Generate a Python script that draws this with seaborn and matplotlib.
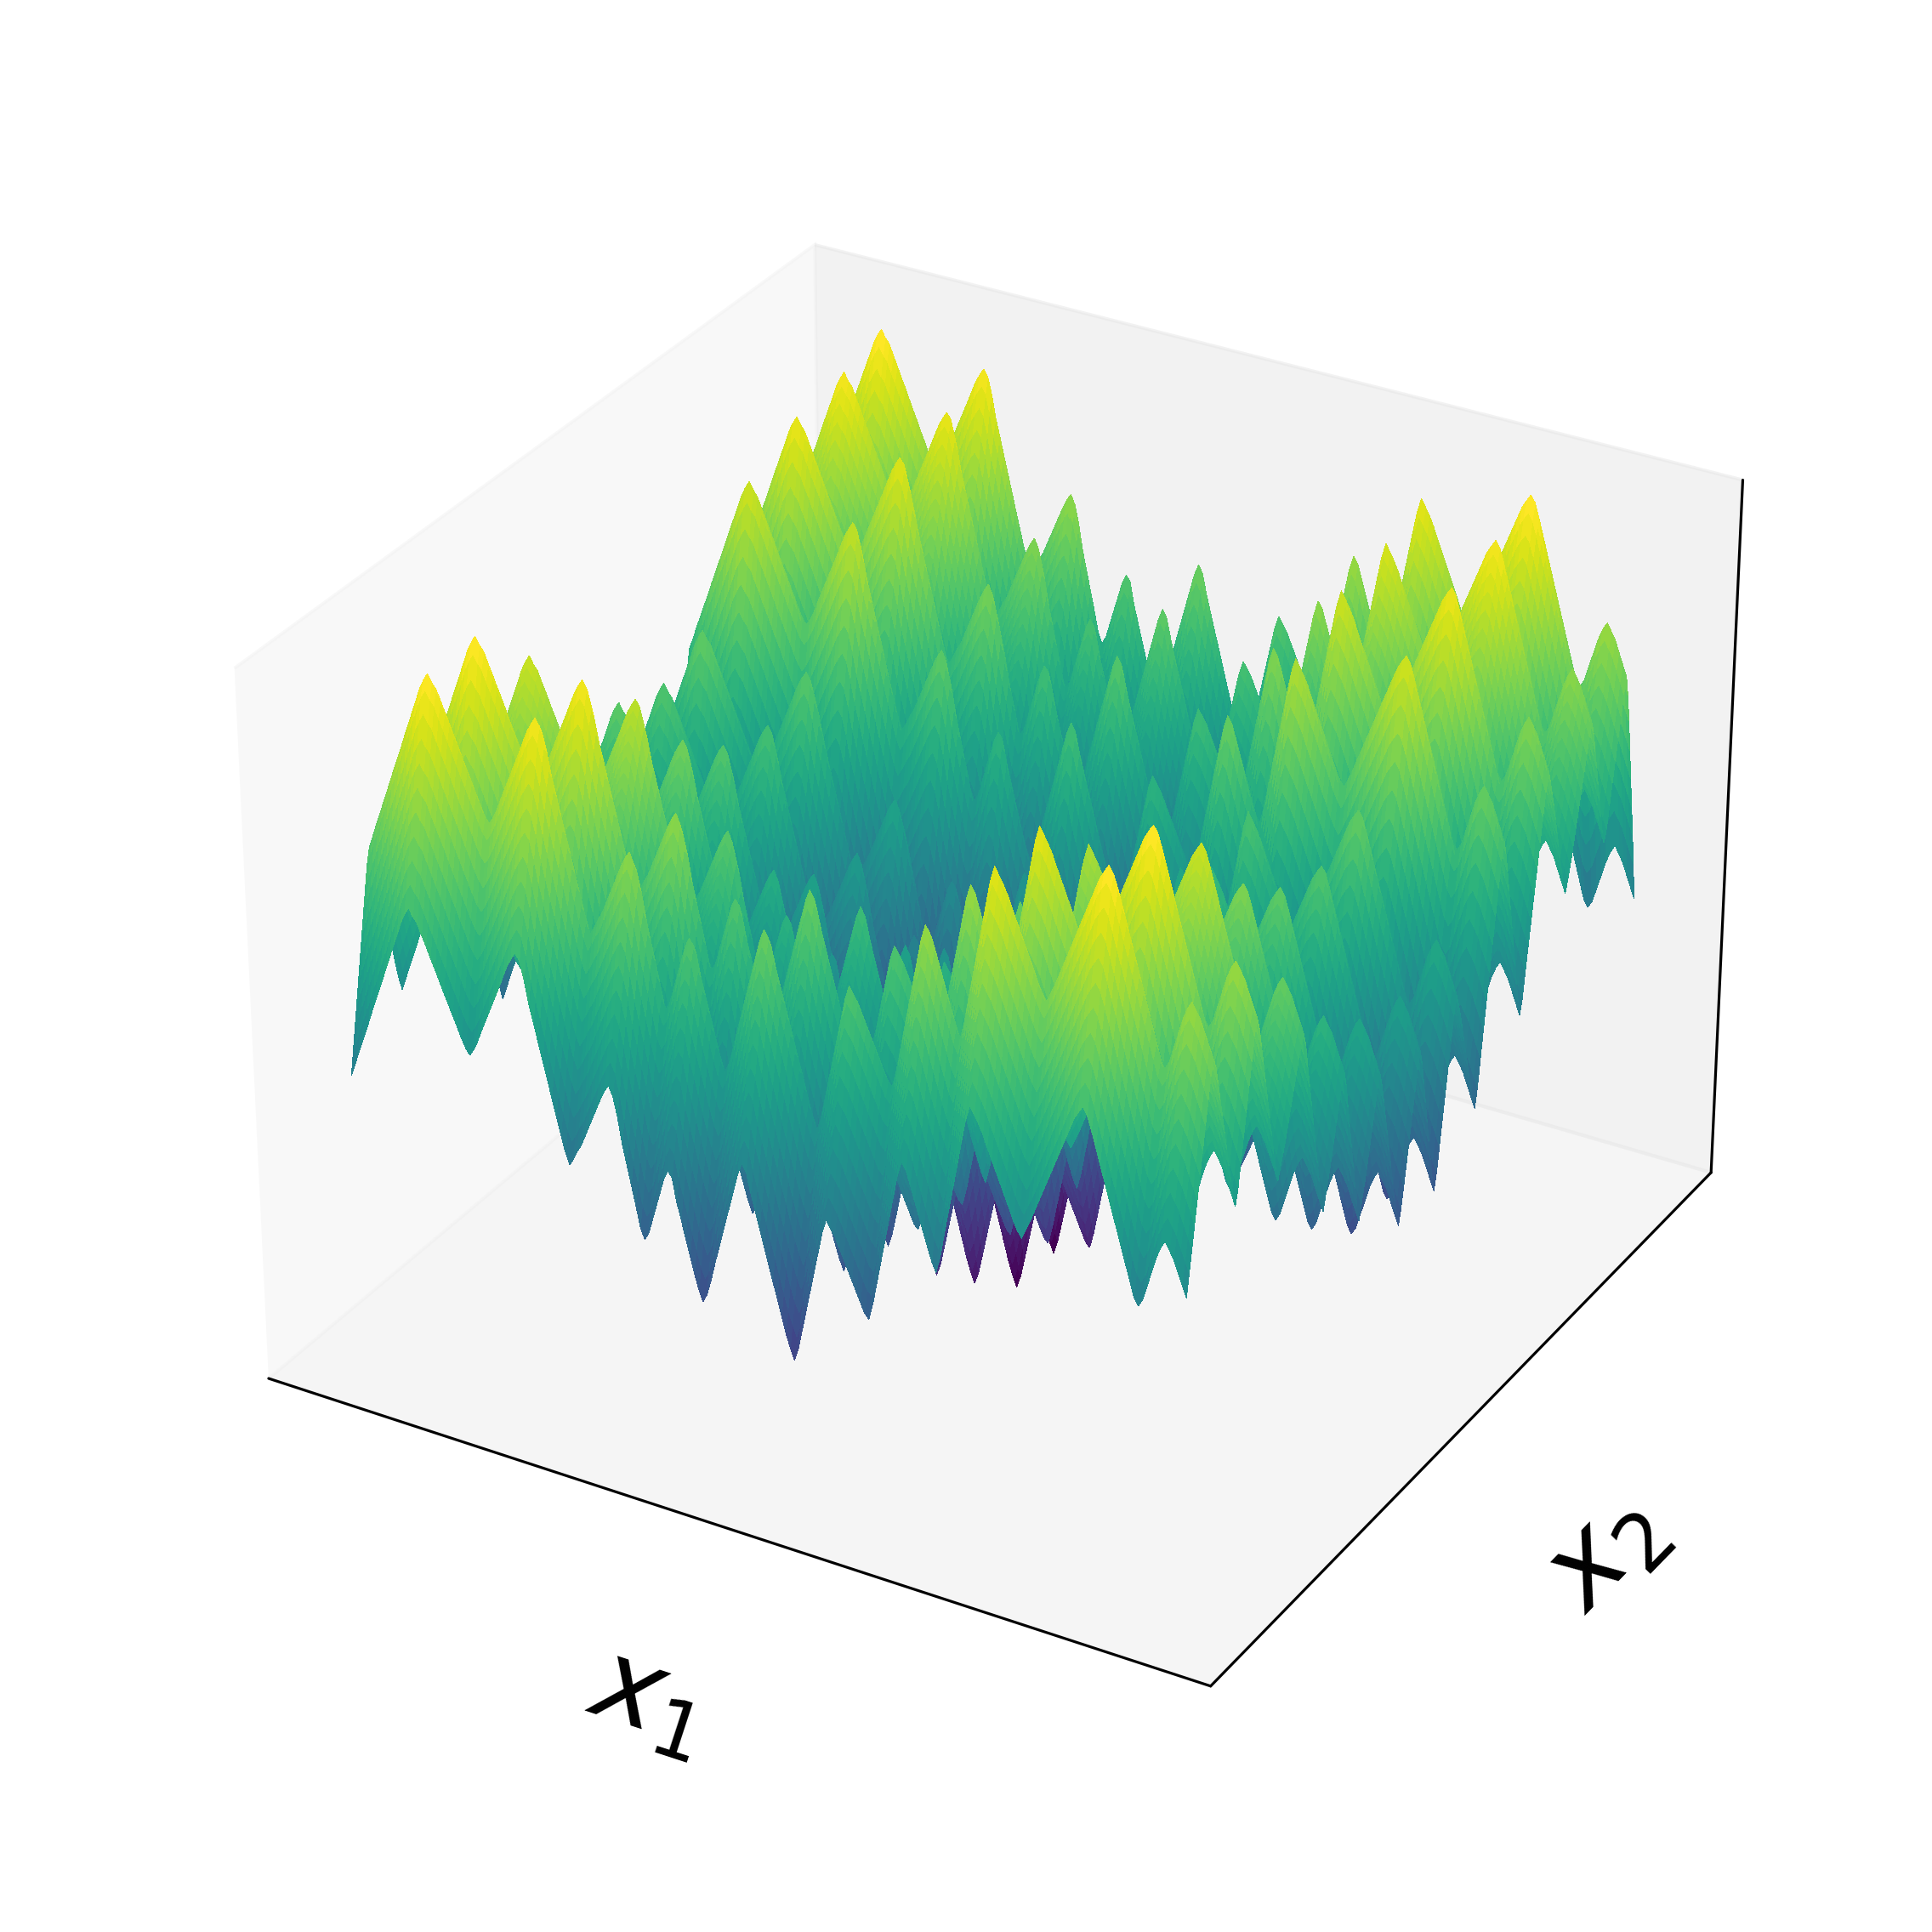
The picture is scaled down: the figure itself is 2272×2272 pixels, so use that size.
import matplotlib
matplotlib.use("Agg")
import matplotlib.pyplot as plt
import numpy as np
import seaborn as sns

# surface heights, step 0.05 from -5 to 5
height_x1 = [21, 22.6, 24.3, 25.9, 27.5, 29.1, 30.8, 32.4, 34, 35.6, 37.3, 38.9, 40.5, 42.1, 43.8, 45, 46,
             45, 44.3, 42.9, 41.6, 40.2, 38.9, 37.5, 36.1, 34.8, 33.4, 32.1, 30.7, 29.5, 28.7,
             29.6, 30.8, 32.3, 33.7, 35.1, 36.5, 37.9, 39.3, 40.8, 42.2, 43.3, 44.2,
             43.3, 41, 38, 35.7, 33.3, 31, 28.7, 26.3, 24, 21.7, 19.5, 18,
             19, 20.2, 21.2, 22.6, 24, 25.4, 26.8, 28.2, 29.4, 30.3,
             29, 26.5, 23.1, 20.5, 17.9, 15.3, 12.5, 11,
             12, 14, 16, 18, 20, 21.3,
             20.5, 17.5, 15.3, 13, 10.8, 8.5, 6.5, 5,
             6.2, 8.2, 10.6, 12.8, 15, 17.2, 19.4, 21.6, 23.8, 25.3,
             24.3, 21.7, 19.5, 17.3, 15.2, 13, 10.8, 8.7, 6.5, 4.3, 2.5, 1,
             2.8, 5.5, 8.3, 11, 13.8, 16.5, 19.3, 21.2,
             20.3, 19.4, 18.1, 16.8, 15.5, 14.2, 12.9, 11.6, 10.3, 9.7,
             12, 15, 18, 21, 24, 27, 30, 32,
             31.1, 29.3, 27.4, 25.5, 23.6, 21.8, 20, 18.7,
             21, 24.3, 27.4, 30.5, 33.6, 36.8, 39.9, 42,
             41, 40, 38.8, 37.3, 35.9, 34.5, 33.1, 31.7, 30.3, 28.8, 27.6, 26.7,
             28, 29.3, 30.8, 32.3, 33.8, 35.3, 36.8, 38.3, 39.8, 41.3, 42.8, 44.3, 45.3, 46.2,
             45.3, 43.5, 41.5, 39.5, 37.5, 35.5, 33.5, 31.5, 29.5, 27.5, 25.5, 23.5,
             22.5, 23.5, 25.5, 27.5, 29.5, 31, 32, 31, 30, 28.5, 27, 25.5]
height_x2 = [21, 23.9, 26.8, 29.7, 32.6, 35.5, 38.4, 41.3, 44.2, 47, 48.8,
             47.6, 45.2, 42.8, 40.4, 38, 35.6, 33.2, 30.8, 28.6, 27,
             29, 32, 35, 38, 41, 44, 47, 49,
             47.4, 44.8, 42.2, 39.6, 37, 34.4, 31.8, 29.2, 26.8, 25,
             26.6, 28, 29.6, 31.4, 33.2, 35, 36.8, 38.6, 40.2, 41.3,
             39.5, 36.4, 33.6, 30.8, 28, 25.2, 22.4, 19.6, 17, 15,
             17, 18.8, 20.8, 23, 25.3, 27.5, 29.6, 31.2,
             29.2, 26, 23, 20, 17, 14, 11.3, 9,
             11, 13, 15.1, 17.5, 19.9, 22.3, 24.6, 26.3,
             24.5, 22, 19.5, 17, 14.5, 12, 9.5, 7, 4.8, 3,
             5, 7.8, 10.6, 13.5, 16.4, 19.3, 22, 24.2,
             22.2, 19.3, 16.4, 13.5, 10.6, 7.8, 5, 3,
             5.2, 8.5, 11.8, 15, 18.3, 21.5, 24.7, 27.2,
             25.6, 24, 22, 20, 18, 16, 14, 12, 10.2, 9,
             11.5, 15.3, 18.9, 22.5, 26, 29.5, 33, 36.5, 39.8, 42.2,
             40.3, 37.6, 34.8, 32, 29.2, 26.4, 23.6, 20.8, 18.2, 16,
             18, 21.4, 24.6, 27.8, 31, 34.2, 37.4, 40.6, 43.6, 46,
             44.4, 42.5, 40.7, 38.6, 36.5, 34.4, 32.3, 30.2, 28.3, 27,
             28.7, 30.4, 32.6, 34.8, 37, 39.2, 41.4, 43.6, 45.7, 47.2,
             45.5, 43, 40.5, 38, 35.5, 33, 30.6, 29,
             30.6, 33.5, 36.3, 39, 41.8, 44.5, 47.2, 49.2,
             46.5, 42.8, 38.6, 34.5, 30.4, 26.3, 22.1, 17]
x1 = [i / 20 - 5 for i in range(len(height_x1))]
x2 = [i / 20 - 5 for i in range(len(height_x2))]

sns.set_style("white")

X1, X2 = np.meshgrid(x1, x2)
Z = np.array(height_x1)[None, :] + np.array(height_x2)[:, None]

fig = plt.figure(figsize=(8, 8), dpi=284)
ax = fig.add_axes([0.071, 0.0725, 0.873, 0.868], projection="3d")
ax.plot_surface(X1, X2, Z, rstride=1, cstride=1, cmap=sns.color_palette("viridis", as_cmap=True),
                linewidth=0, antialiased=False)
ax.set_xticks([])
ax.set_yticks([])
ax.set_zticks([])
ax.set_xlabel("$x_1$", fontsize=34, color="black", labelpad=15)
ax.set_ylabel("$x_2$", fontsize=34, color="black", labelpad=15)
for axis in (ax.xaxis, ax.yaxis, ax.zaxis):
    axis.line.set_color("black")
ax.grid(False)
fig.savefig("out.png")
